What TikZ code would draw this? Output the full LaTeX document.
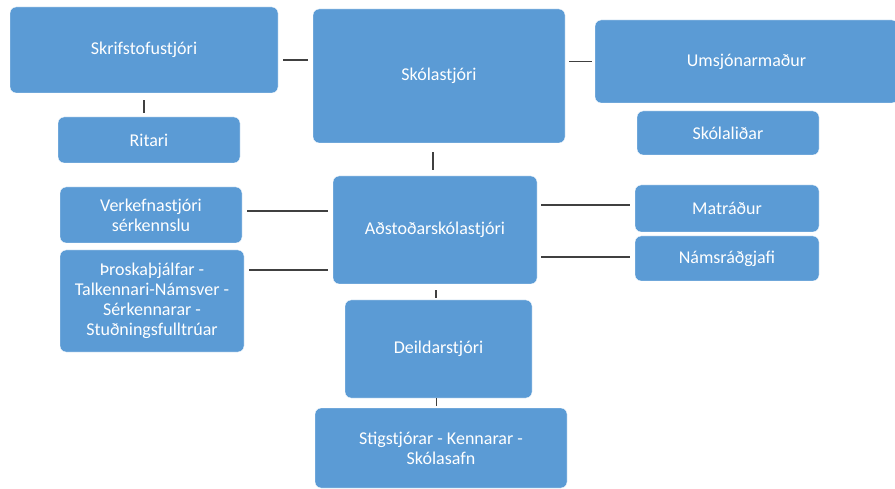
\documentclass[tikz,border=0pt]{standalone}
\usepackage{fontspec}
\setmainfont{Carlito}
\definecolor{boxblue}{HTML}{5B9BD5}
\definecolor{linegray}{HTML}{404040}
\begin{document}
\begin{tikzpicture}[x=1pt, y=-1pt,
	unit/.style={draw=white, fill=boxblue, rounded corners=6pt, text=white, align=center, inner sep=0pt, font=\fontsize{18}{20}\selectfont},
	conn/.style={draw=linegray, line width=1.6pt}]
		\useasboundingbox (0,0) rectangle (895,489);
		\clip (0,0) rectangle (895,489);
		\node[unit, minimum width=268, minimum height=86] (skrif) at (144.0,50.0) {Skrifstofustjóri};
		\node[unit, minimum width=182, minimum height=46] (ritari) at (149.0,140.0) {Ritari};
		\node[unit, minimum width=252, minimum height=134] (skola) at (439.0,76.0) {Skólastjóri};
		\node[unit, minimum width=303, minimum height=83] (umsjon) at (746.5,61.5) {Umsjónarmaður};
		\node[unit, minimum width=182, minimum height=44] (skolalid) at (728.0,133.0) {Skólaliðar};
		\node[unit, minimum width=182, minimum height=56] (verk) at (151.0,215.0) {Verkefnastjóri\\sérkennslu};
		\node[unit, minimum width=184, minimum height=102] (thro) at (152.0,301.0) {Þroskaþjálfar -\\Talkennari-Námsver -\\Sérkennarar -\\Stuðningsfulltrúar};
		\node[unit, minimum width=204, minimum height=108] (adst) at (435.0,230.0) {Aðstoðarskólastjóri};
		\node[unit, minimum width=184, minimum height=47] (matr) at (727.0,208.5) {Matráður};
		\node[unit, minimum width=184, minimum height=45] (nams) at (727.0,258.5) {Námsráðgjafi};
		\node[unit, minimum width=187, minimum height=98] (deild) at (438.5,349.0) {Deildarstjóri};
		\node[unit, minimum width=252, minimum height=80] (stig) at (441.0,448.0) {Stigstjórar - Kennarar -\\Skólasafn};
		\draw[conn, shorten <=5pt, shorten >=5pt] ([yshift=-10pt]skrif.east) -- ([yshift=-10pt]skrif.east -| skola.west);
		\draw[conn, shorten <=3pt, shorten >=4pt] (umsjon.west) -- (umsjon.west -| skola.east);
		\draw[conn, shorten <=7pt, shorten >=4pt] (skrif.south) -- (skrif.south |- ritari.north);
		\draw[conn, shorten <=9pt, shorten >=6pt] ([xshift=-6pt]skola.south) -- ([xshift=-6pt]skola.south |- adst.north);
		\draw[conn, shorten <=5pt, shorten >=5pt] ([yshift=4pt]verk.east) -- ([yshift=4pt]verk.east -| adst.west);
		\draw[conn, shorten <=5pt, shorten >=5pt] ([yshift=-40pt]adst.west) -- ([yshift=-40pt]adst.west -| thro.east);
		\draw[conn, shorten <=5pt, shorten >=4pt] ([yshift=3.5pt]matr.west) -- ([yshift=3.5pt]matr.west -| adst.east);
		\draw[conn, shorten <=5pt, shorten >=4pt] ([yshift=1.5pt]nams.west) -- ([yshift=1.5pt]nams.west -| adst.east);
		\draw[conn, shorten <=6pt, shorten >=2pt] ([xshift=1pt]adst.south) -- ([xshift=1pt]adst.south |- deild.north);
		\draw[conn, shorten <=0pt, shorten >=2pt] ([xshift=-2pt]deild.south) -- ([xshift=-2pt]deild.south |- stig.north);
	\end{tikzpicture}
\end{document}
